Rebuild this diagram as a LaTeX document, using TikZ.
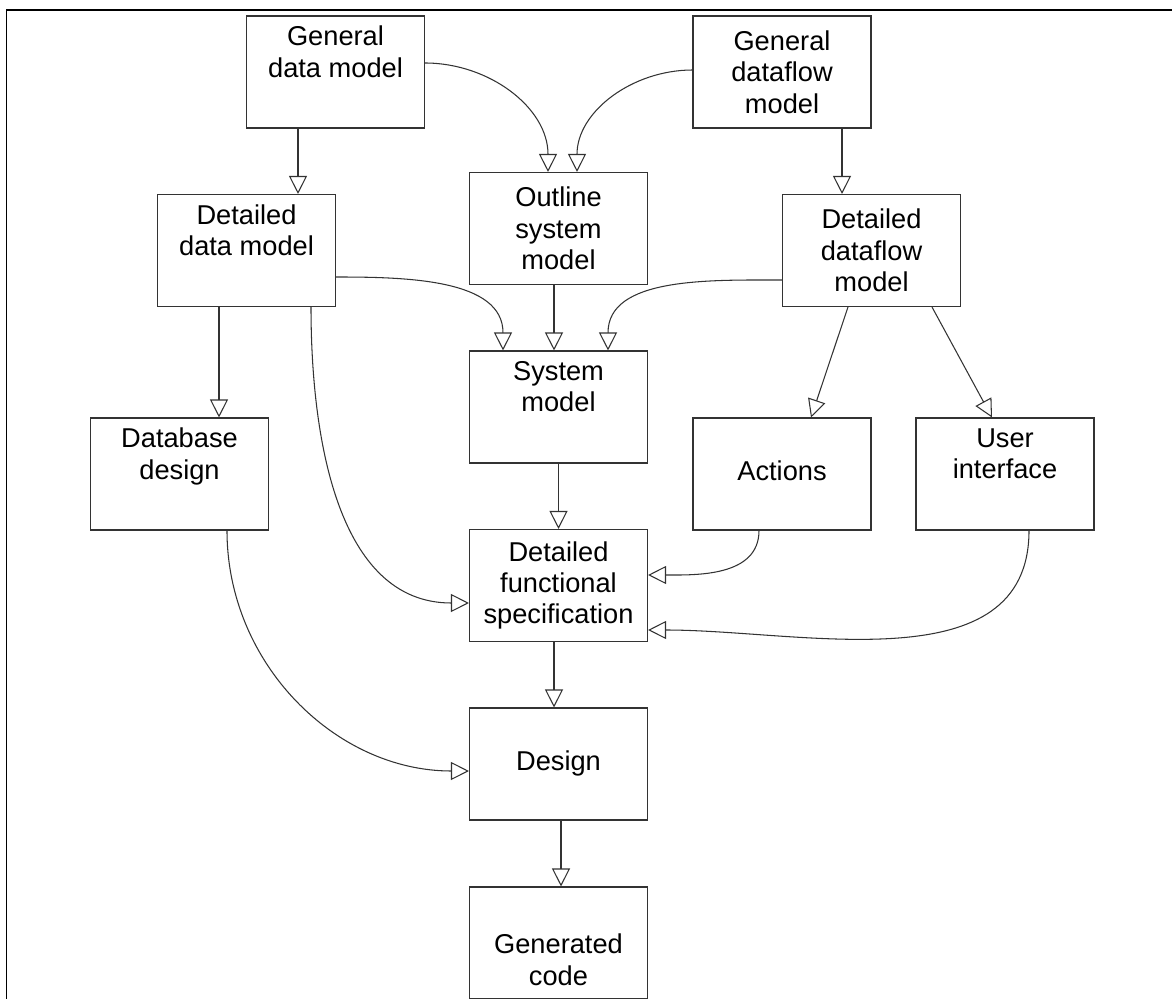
\documentclass[tikz,border=0pt]{standalone}
\usepackage{fontspec}
\setmainfont{Liberation Sans}
\usetikzlibrary{arrows.meta}

\begin{document}
\begin{tikzpicture}[>={Triangle[open, length=0.36cm, width=0.36cm]},
    stage/.style={rectangle, draw=black!80, line width=0.6pt, minimum width=3.56cm, minimum height=2.24cm, inner sep=0pt, align=center, font=\fontsize{15.5pt}{17.8pt}\selectfont},
    arrow/.style={->, draw=black!80, line width=0.6pt},
    frame/.style={draw=black, line width=1.1pt}]

    \useasboundingbox (0,0) rectangle (23.44,-19.98);
    \draw [frame] (23.44,-0.2) -- (0.13,-0.2) -- (0.13,-19.98);

    \node [stage] at (6.71,-1.44) (gdm) {General\\data model\\\strut};
    \node [stage] at (15.64,-1.44) (gdf) {General\\dataflow\\model};
    \node [stage] at (11.17,-4.57) (outline) {Outline\\system\\model};
    \node [stage] at (4.93,-5.01) (ddm) {Detailed\\data model\\\strut};
    \node [stage] at (17.43,-5.01) (ddf) {Detailed\\dataflow\\model};
    \node [stage] at (11.17,-8.14) (sysmodel) {System\\model\\\strut};
    \node [stage] at (3.59,-9.48) (dbdesign) {Database\\design\\\strut};
    \node [stage] at (15.64,-9.48) (actions) {\strut\\Actions\\\strut};
    \node [stage] at (20.10,-9.48) (ui) {User\\interface\\\strut};
    \node [stage] at (11.17,-11.71) (dfs) {Detailed\\functional\\specification};
    \node [stage] at (11.17,-15.28) (design) {\strut\\Design\\\strut};
    \node [stage] at (11.17,-18.86) (gencode) {\strut\\Generated\\code};

    \draw [arrow] ([xshift=-0.75cm]gdm.south) -- ([xshift=-0.75cm]gdm.south |- ddm.north);
    \draw [arrow] ([yshift=0.18cm]gdm.east) to[out=0, in=90] ([xshift=-0.21cm]outline.north);
    \draw [arrow] ([yshift=0.04cm]gdf.west) to[out=180, in=90] ([xshift=0.37cm]outline.north);
    \draw [arrow] ([xshift=1.2cm]gdf.south) -- ([xshift=1.2cm]gdf.south |- ddf.north);
    \draw [arrow] ([yshift=-0.53cm]ddm.east) to[out=0, in=90] ([xshift=-1.11cm]sysmodel.north);
    \draw [arrow] ([xshift=-0.09cm]outline.south) -- ([xshift=-0.09cm]sysmodel.north);
    \draw [arrow] ([yshift=-0.59cm]ddf.west) to[out=180, in=90] ([xshift=0.99cm]sysmodel.north);
    \draw [arrow] ([xshift=-0.55cm]ddm.south) -- ([xshift=-0.55cm]ddm.south |- dbdesign.north);
    \draw [arrow] ([xshift=1.29cm]ddm.south) to[out=-90, in=180] ([yshift=-0.35cm]dfs.west);
    \draw [arrow] ([xshift=-0.47cm]ddf.south) -- ([xshift=0.58cm]actions.north);
    \draw [arrow] ([xshift=1.21cm]ddf.south) -- ([xshift=-0.26cm]ui.north);
    \draw [arrow] (sysmodel.south) -- (dfs.north);
    \draw [arrow] ([xshift=-0.46cm]actions.south) to[out=-90, in=0] ([yshift=0.21cm]dfs.east);
    \draw [arrow] ([xshift=0.48cm]ui.south) to[out=-90, in=0] ([yshift=-0.89cm]dfs.east);
    \draw [arrow] ([xshift=-0.09cm]dfs.south) -- ([xshift=-0.09cm]design.north);
    \draw [arrow] ([xshift=0.95cm]dbdesign.south) to[out=-90, in=180] ([yshift=-0.14cm]design.west);
    \draw [arrow] ([xshift=0.05cm]design.south) -- ([xshift=0.05cm]gencode.north);
\end{tikzpicture}
\end{document}
